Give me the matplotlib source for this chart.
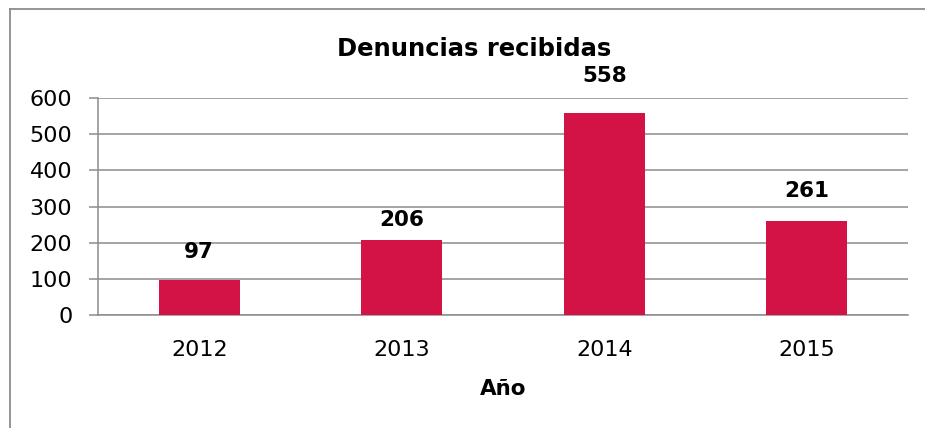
import matplotlib
matplotlib.use("Agg")
import matplotlib.pyplot as plt
from matplotlib.lines import Line2D

# datos
anios = ["2012", "2013", "2014", "2015"]
denuncias = [97, 206, 558, 261]
offsets = [18, 10, 27, 20]   # separacion de las etiquetas (px aprox)

color_barra = "#D31245"
gris = "#8C8C8C"

fig = plt.figure(figsize=(9.25, 4.28), dpi=100)
ax = fig.add_axes([98/925, 1 - 315/428, (908-98)/925, (315-98)/428])

x = range(len(anios))
ax.bar(x, denuncias, width=0.4, color=color_barra, zorder=3)
for i in x:
    ax.annotate(str(denuncias[i]), (i, denuncias[i]), xytext=(0, offsets[i]*0.72),
                textcoords="offset points", ha="center", va="bottom",
                fontsize=15.5, fontweight="bold")

ax.set_xlim(-0.5, 3.5)
ax.set_ylim(0, 600)
ax.set_yticks(range(0, 601, 100))
ax.set_xticks(list(x))
ax.set_xticklabels(anios)
ax.yaxis.grid(True, color=gris, linewidth=1.1, zorder=0)
ax.set_axisbelow(True)
for s in ["top", "right"]:
    ax.spines[s].set_visible(False)
ax.spines["left"].set_color(gris)
ax.spines["bottom"].set_color(gris)
ax.spines["left"].set_linewidth(1.1)
ax.spines["bottom"].set_linewidth(1.1)
ax.tick_params(axis="y", length=6.5, width=1.1, color=gris, labelsize=16, pad=12)
ax.tick_params(axis="x", length=0, labelsize=16, pad=18)

ax.set_xlabel("Año", fontsize=15.5, fontweight="bold", labelpad=14)
fig.text(474/925, 1 - 49/428, "Denuncias recibidas", ha="center", va="center",
         fontsize=17.5, fontweight="bold")

# marco
fig.add_artist(Line2D([10/925, 10/925], [0, 1 - 9/428], transform=fig.transFigure,
                      color=gris, linewidth=1.3))
fig.add_artist(Line2D([10/925, 1], [1 - 9/428, 1 - 9/428], transform=fig.transFigure,
                      color=gris, linewidth=1.3))

fig.savefig("out.png", dpi=100)
